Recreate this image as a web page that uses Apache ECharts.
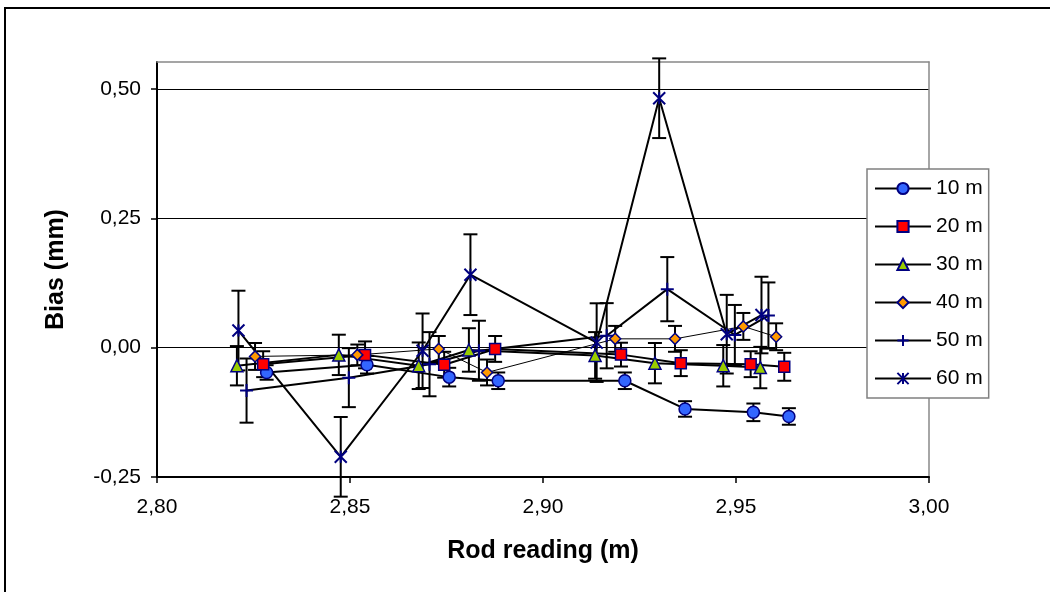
<!DOCTYPE html>
<html><head><meta charset="utf-8">
<script src="https://cdn.jsdelivr.net/npm/echarts@6/dist/echarts.min.js"></script>
<style>html,body{margin:0;padding:0;background:#fff}#c{width:1050px;height:592px}</style>
</head><body><div id="c"></div>
<script>
const seriesNames = ['10 m','20 m','30 m','40 m','50 m','60 m'];

const x10 = [2.8284, 2.8544, 2.8757, 2.8884, 2.9212, 2.9368, 2.9545, 2.9637];
const y10 = [-0.048, -0.033, -0.057, -0.064, -0.064, -0.1185, -0.125, -0.133];
const e10 = [0.014, 0.017, 0.018, 0.016, 0.016, 0.015, 0.017, 0.016];

const x20 = [2.8275, 2.8539, 2.8744, 2.8876, 2.9202, 2.9357, 2.9538, 2.9625];
const y20 = [-0.032, -0.014, -0.033, -0.0025, -0.0135, -0.030, -0.032, -0.037];
const e20 = [0.025, 0.026, 0.025, 0.025, 0.023, 0.025, 0.025, 0.027];

const x30 = [2.8207, 2.8471, 2.8678, 2.8808, 2.9135, 2.9290, 2.9467, 2.9563];
const y30 = [-0.035, -0.014, -0.035, -0.0045, -0.015, -0.030, -0.035, -0.0385];
const e30 = [0.038, 0.039, 0.045, 0.042, 0.045, 0.039, 0.040, 0.040];

const x40 = [2.8254, 2.8519, 2.8730, 2.8855, 2.9187, 2.9342, 2.9519, 2.9604];
const y40 = [-0.017, -0.014, -0.0025, -0.048, 0.017, 0.017, 0.041, 0.021];
const e40 = [0.026, 0.020, 0.025, 0.025, 0.025, 0.025, 0.026, 0.026];

const x50 = [2.8232, 2.8497, 2.8706, 2.8834, 2.9165, 2.9322, 2.9497, 2.9584];
const y50 = [-0.083, -0.058, -0.032, -0.006, 0.023, 0.113, 0.0245, 0.062];
const e50 = [0.062, 0.057, 0.062, 0.058, 0.063, 0.062, 0.058, 0.064];

const x60 = [2.8211, 2.8476, 2.8688, 2.8812, 2.9139, 2.9301, 2.9476, 2.9566];
const y60 = [0.033, -0.211, -0.006, 0.141, 0.0097, 0.482, 0.026, 0.063];
const e60 = [0.077, 0.077, 0.072, 0.078, 0.076, 0.077, 0.076, 0.074];

const yTicks = [-0.25, 0, 0.25, 0.5];
const xMin = 2.80, xMax = 3.00, xStep = 0.05;
const yMin = -0.25, yMax = 0.552, yStep = 0.25;

const xs = [x10, x20, x30, x40, x50, x60];
const ys = [y10, y20, y30, y40, y50, y60];
const es = [e10, e20, e30, e40, e50, e60];

const FONT = '"Liberation Sans", Arial, sans-serif';
const NAVY = '#000080';
const styles = [
  {symbol: 'circle', size: 12, fill: '#3366FF', lw: 2},
  {symbol: 'rect', size: 11, fill: '#FF0000', lw: 2},
  {symbol: 'triangle', size: 12, fill: '#99CC00', lw: 2},
  {symbol: 'diamond', size: 11, fill: '#FF9900', lw: 1},
  {symbol: 'path://M5,0L5,10M0,5L10,5', size: 13, fill: NAVY, lw: 2, stroke: true},
  {symbol: 'path://M0,0L10,10M10,0L0,10M5,0L5,10', size: 12, fill: NAVY, lw: 2, stroke: true}
];

const fmt = v => v.toFixed(2).replace('.', ',');

const series = [];
seriesNames.forEach((name, i) => {
  const pts = xs[i].map((x, k) => [x, ys[i][k], es[i][k]]);
  series.push({
    name: 'err' + i,
    type: 'custom',
    z: 1,
    silent: true,
    data: pts,
    renderItem: (params, api) => {
      const x = api.value(0), y = api.value(1), e = api.value(2);
      const top = api.coord([x, y + e]);
      const bot = api.coord([x, y - e]);
      const hw = 7;
      const st = {stroke: '#000', lineWidth: 2};
      return {
        type: 'group',
        children: [
          {type: 'line', shape: {x1: top[0], y1: top[1], x2: bot[0], y2: bot[1]}, style: st},
          {type: 'line', shape: {x1: top[0] - hw, y1: top[1], x2: top[0] + hw, y2: top[1]}, style: st},
          {type: 'line', shape: {x1: bot[0] - hw, y1: bot[1], x2: bot[0] + hw, y2: bot[1]}, style: st}
        ]
      };
    }
  });
});
seriesNames.forEach((name, i) => {
  const s = styles[i];
  series.push({
    name: name,
    type: 'line',
    z: 3,
    data: xs[i].map((x, k) => [x, ys[i][k]]),
    symbol: s.symbol,
    symbolSize: s.size,
    showAllSymbol: true,
    lineStyle: {color: '#000', width: s.lw},
    itemStyle: s.stroke
      ? {color: NAVY, borderColor: NAVY, borderWidth: 2}
      : {color: s.fill, borderColor: NAVY, borderWidth: 1.5},
    emphasis: {disabled: true},
    animation: false
  });
});

const chart = echarts.init(document.getElementById('c'), null, {renderer: 'canvas'});
chart.setOption({
  animation: false,
  backgroundColor: '#fff',
  textStyle: {fontFamily: FONT},
  grid: {left: 157, right: 121, top: 62, bottom: 115, containLabel: false},
  xAxis: [{
    type: 'value', min: xMin, max: xMax, interval: xStep,
    name: 'Rod reading (m)', nameLocation: 'middle', nameGap: 62,
    nameTextStyle: {fontSize: 25, fontWeight: 'bold', color: '#000', fontFamily: FONT},
    axisLine: {show: true, onZero: false, lineStyle: {color: '#000', width: 2}},
    axisTick: {show: true, length: 6, lineStyle: {color: '#000', width: 1.5}},
    axisLabel: {formatter: fmt, fontSize: 21, color: '#000', margin: 20, fontFamily: FONT},
    splitLine: {show: false}
  }, {
    type: 'value', position: 'top', min: xMin, max: xMax,
    axisLine: {show: true, onZero: false, lineStyle: {color: '#888', width: 1.5}},
    axisTick: {show: false}, axisLabel: {show: false}, splitLine: {show: false}
  }],
  yAxis: [{
    type: 'value', min: yMin, max: yMax, interval: yStep,
    name: 'Bias (mm)', nameLocation: 'middle', nameGap: 88, nameRotate: 90,
    nameTextStyle: {fontSize: 25, fontWeight: 'bold', color: '#000', fontFamily: FONT},
    axisLine: {show: true, onZero: false, lineStyle: {color: '#000', width: 2}},
    axisTick: {show: true, length: 6, customValues: yTicks, lineStyle: {color: '#000', width: 1.5}},
    axisLabel: {customValues: yTicks, formatter: fmt, fontSize: 21, color: '#000', margin: 16, fontFamily: FONT},
    splitLine: {show: true, lineStyle: {color: '#000', width: 1}}
  }, {
    type: 'value', position: 'right', min: yMin, max: yMax,
    axisLine: {show: true, onZero: false, lineStyle: {color: '#888', width: 1.5}},
    axisTick: {show: false}, axisLabel: {show: false}, splitLine: {show: false}
  }],
  legend: {
    data: seriesNames,
    orient: 'vertical',
    left: 867, top: 169,
    padding: [9, 6, 9, 7],
    itemWidth: 56, itemHeight: 14,
    itemGap: 17,
    backgroundColor: '#fff',
    borderColor: '#808080', borderWidth: 1.5, borderRadius: 0,
    textStyle: {fontSize: 21, color: '#000', fontFamily: FONT},
    selectedMode: false
  },
  graphic: [{
    type: 'polyline', silent: true, z: 100,
    shape: {points: [[5, 592], [5, 8], [1050, 8]]},
    style: {stroke: '#000', lineWidth: 2, fill: null}
  }],
  series: series
});
</script>
</body></html>
